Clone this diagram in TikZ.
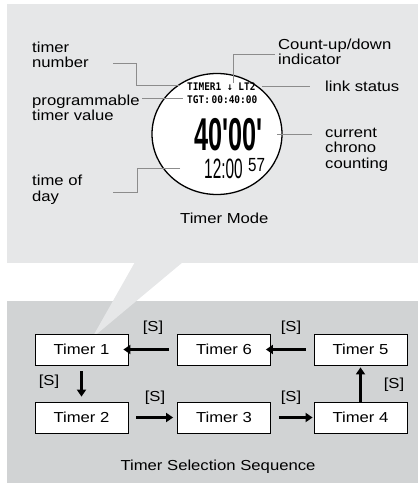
\documentclass[tikz,border=0pt]{standalone}
\usepackage{fontspec}
\setmainfont{Liberation Sans}[FakeStretch=1.15]
\newfontfamily\lcdfont{Liberation Sans}[FakeStretch=0.55]
\newfontfamily\lcdsec{Liberation Sans}[FakeStretch=0.8]
\newfontfamily\lcdsmall{DejaVu Sans Mono}[FakeStretch=0.9]
\usetikzlibrary{arrows.meta,shapes.geometric}
\definecolor{topgray}{HTML}{E6E7E8}
\definecolor{botgray}{HTML}{D1D3D4}
\definecolor{leadgray}{HTML}{8C8C8C}
\tikzset{
  lbl/.style={anchor=base west, align=left, inner sep=0pt, font=\fontsize{14.5}{15.5}\selectfont},
  lead/.style={draw=leadgray, line width=1pt},
  tbox/.style={draw=black, fill=white, line width=0.8pt, minimum width=93pt, minimum height=31pt, inner sep=0pt, font=\fontsize{14.5}{15.5}\selectfont},
  sarrow/.style={line width=2.6pt, -{Triangle[length=7pt,width=9pt]}},
  slbl/.style={inner sep=0pt, font=\fontsize{14.5}{15.5}\selectfont},
  lcd/.style={anchor=base west, inner sep=0pt, text depth=0pt},
}
\begin{document}
\begin{tikzpicture}[x=1pt,y=-1pt]
\useasboundingbox (0,0) rectangle (418,484);
% panels
\fill[topgray] (7,4) rectangle (418,263);
\fill[botgray] (7,301) rectangle (418,483);
\fill[topgray] (135,262) -- (183,262) -- (92,338) -- cycle;
% watch face
\node[draw=black, line width=1.3pt, fill=white, ellipse, minimum width=130pt, minimum height=121pt, inner sep=0pt] (face) at (217,134) {};
% LCD text
\node[lcd, font=\fontsize{10.5}{10}\lcdsmall\bfseries] (tline) at (187,91) {TIMER1 ↓ LT2};
\node[lcd, font=\fontsize{10.5}{10}\lcdsmall\bfseries] (tgt) at (187,103) {TGT:\,00:40:00};
\node[lcd, text height=33pt, font=\fontsize{46}{46}\lcdfont\bfseries] (chrono) at (194,150) {40'00'};
\node[lcd, text height=20pt, font=\fontsize{28}{28}\lcdfont] (tod) at (204,178) {12:00};
\node[lcd, text height=14pt, font=\fontsize{19}{19}\lcdsec] (sec) at (248,171) {57};
% labels
\node[lbl] (tnum) at (32,68) {timer\\number};
\node[lbl] (cud) at (278,65) {Count-up/down\\indicator};
\node[lbl] (link) at (325,92) {link status};
\node[lbl] (prog) at (32,121) {programmable\\timer value};
\node[lbl] (cur) at (325,168) {current\\chrono\\counting};
\node[lbl] (tday) at (32,201) {time of\\day};
\node[lbl] (mode) at (180,223) {Timer Mode};
% leader lines
\coordinate (a1) at (113,64);
\draw[lead] (a1) -- (136,64) -- (136,86) -- (180,86);
\draw[lead] (233,83) -- (233,55) -- (275,55);
\draw[lead] (262,87) -- (310,87);
\draw[lead] (142,99) -- (183,99);
\draw[lead] (277,134) -- (312,134);
\draw[lead] (180,168) -- (137,168) -- (137,192) -- (113,192);
% timer boxes
\node[tbox] (t1) at (81.5,349.5) {Timer 1};
\node[tbox] (t6) at (224,349.5) {Timer 6};
\node[tbox] (t5) at (360.5,349.5) {Timer 5};
\node[tbox] (t2) at (81.5,417.5) {Timer 2};
\node[tbox] (t3) at (224,417.5) {Timer 3};
\node[tbox] (t4) at (360.5,417.5) {Timer 4};
% arrows
\draw[sarrow] ([xshift=-8pt]t6.west) -- ([xshift=-5pt]t1.east);
\draw[sarrow] ([xshift=-8pt]t5.west) -- ([xshift=-5pt]t6.east);
\draw[sarrow] ([yshift=-6pt]t1.south) -- ([yshift=5pt]t2.north);
\draw[sarrow] ([xshift=8pt]t2.east) -- ([xshift=-4pt]t3.west);
\draw[sarrow] ([xshift=8pt]t3.east) -- ([xshift=-1pt]t4.west);
\draw[sarrow] (t4.north) -- ([yshift=-2pt]t5.south);
% [S] labels
\node[slbl] (s1) at (153,328) {[S]};
\node[slbl] (s2) at (291,328) {[S]};
\node[slbl] (s3) at (49,382) {[S]};
\node[slbl] (s4) at (155,398) {[S]};
\node[slbl] (s5) at (291,398) {[S]};
\node[slbl] (s6) at (394,385) {[S]};
\node[slbl] (seq) at (218,467) {Timer Selection Sequence};
\end{tikzpicture}
\end{document}
